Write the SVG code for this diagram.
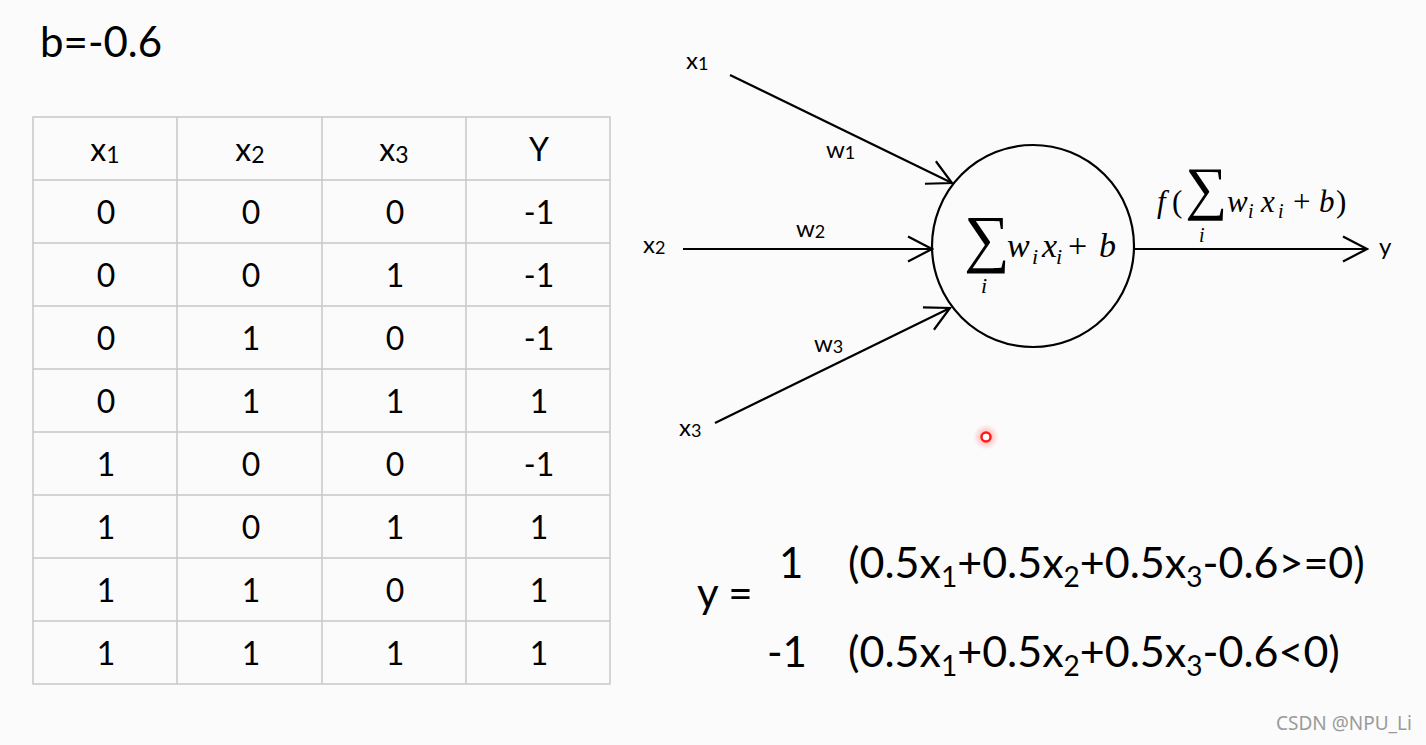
<svg xmlns="http://www.w3.org/2000/svg" width="1426" height="745" viewBox="0 0 1426 745">
<defs>
<style>
.sans{font-family:Lato,"Liberation Sans",sans-serif;fill:#000}
.cell{font-size:32px;text-anchor:middle}
.lbl{font-size:24px}
.m{font-family:"Liberation Serif","DejaVu Serif",serif;font-style:italic;fill:#000}
.mu{font-family:"Liberation Serif","DejaVu Serif",serif;fill:#000}
.grid{stroke:#c8c8c8;stroke-width:1.5;fill:none}
.edge{stroke:#000;stroke-width:2.2;fill:none}
.f{font-size:43px}
</style>
<marker id="arr" viewBox="0 0 27 28" refX="25" refY="14" markerWidth="27" markerHeight="28" markerUnits="userSpaceOnUse" orient="auto">
<path d="M1,1.5 L25,14 L1,26.5" fill="none" stroke="#000" stroke-width="2.2"/>
</marker>
<radialGradient id="halo">
<stop offset="0" stop-color="#ff4040" stop-opacity="0.6"/>
<stop offset="1" stop-color="#ff8080" stop-opacity="0"/>
</radialGradient>
</defs>
<rect width="1426" height="745" fill="#fbfbfb"/>

<text id="bias" class="sans" x="40" y="57" font-size="42">b=-0.6</text>

<g id="table">
<rect x="33" y="117" width="577" height="567" fill="#fdfdfd" class="grid"/>
<path class="grid" d="M177,117V684M322,117V684M466,117V684M33,180H610M33,243H610M33,306H610M33,369H610M33,432H610M33,495H610M33,558H610M33,621H610"/>
<g class="sans cell">
<text x="105" y="161">x<tspan font-size="23" dy="2">1</tspan></text>
<text x="250" y="161">x<tspan font-size="23" dy="2">2</tspan></text>
<text x="394" y="161">x<tspan font-size="23" dy="2">3</tspan></text>
<text x="539" y="161">Y</text>
<text x="106" y="224">0</text><text x="251" y="224">0</text><text x="395" y="224">0</text><text x="539" y="224">-1</text>
<text x="106" y="287">0</text><text x="251" y="287">0</text><text x="395" y="287">1</text><text x="539" y="287">-1</text>
<text x="106" y="350">0</text><text x="251" y="350">1</text><text x="395" y="350">0</text><text x="539" y="350">-1</text>
<text x="106" y="413">0</text><text x="251" y="413">1</text><text x="395" y="413">1</text><text x="539" y="413">1</text>
<text x="106" y="476">1</text><text x="251" y="476">0</text><text x="395" y="476">0</text><text x="539" y="476">-1</text>
<text x="106" y="539">1</text><text x="251" y="539">0</text><text x="395" y="539">1</text><text x="539" y="539">1</text>
<text x="106" y="602">1</text><text x="251" y="602">1</text><text x="395" y="602">0</text><text x="539" y="602">1</text>
<text x="106" y="665">1</text><text x="251" y="665">1</text><text x="395" y="665">1</text><text x="539" y="665">1</text>
</g>
</g>

<g id="input-x1"><text class="sans lbl" x="686" y="69">x<tspan font-size="18" dy="1">1</tspan></text></g>
<g id="input-x2"><text class="sans lbl" x="643" y="253">x<tspan font-size="18" dy="1">2</tspan></text></g>
<g id="input-x3"><text class="sans lbl" x="679" y="436">x<tspan font-size="18" dy="1">3</tspan></text></g>
<g id="output-y"><text class="sans lbl" x="1379" y="255">y</text></g>

<g id="neuron">
<circle cx="1033" cy="246" r="101" fill="none" stroke="#000" stroke-width="2.2"/>
<text class="mu" x="964" y="260" font-size="64">∑</text>
<text class="m" x="981" y="293" font-size="22">i</text>
<text class="m" x="1007" y="257" font-size="34">w</text>
<text class="m" x="1032" y="264" font-size="22">i</text>
<text class="m" x="1042" y="257" font-size="34">x</text>
<text class="m" x="1056" y="264" font-size="22">i</text>
<text class="mu" x="1068" y="257" font-size="34">+</text>
<text class="m" x="1099" y="257" font-size="34">b</text>
</g>

<g id="connectors">
<line class="edge" x1="730" y1="75" x2="952" y2="183" marker-end="url(#arr)"/>
<line class="edge" x1="683" y1="249" x2="932" y2="249" marker-end="url(#arr)"/>
<line class="edge" x1="715" y1="423" x2="950" y2="308" marker-end="url(#arr)"/>
<line class="edge" x1="1135" y1="249" x2="1367" y2="249" marker-end="url(#arr)"/>
<text class="sans lbl" x="826" y="158">w<tspan font-size="18" dy="1">1</tspan></text>
<text class="sans lbl" x="796" y="237">w<tspan font-size="18" dy="1">2</tspan></text>
<text class="sans lbl" x="814" y="352">w<tspan font-size="18" dy="1">3</tspan></text>
<g id="activation">
<text class="m" x="1157" y="212" font-size="31">f</text>
<text class="mu" x="1172" y="212" font-size="31">(</text>
<text class="mu" x="1185" y="208" font-size="59">∑</text>
<text class="m" x="1199" y="242" font-size="20">i</text>
<text class="m" x="1227" y="212" font-size="31">w</text>
<text class="m" x="1248" y="218" font-size="20">i</text>
<text class="m" x="1261" y="212" font-size="31">x</text>
<text class="m" x="1278" y="218" font-size="20">i</text>
<text class="mu" x="1293" y="212" font-size="31">+</text>
<text class="m" x="1319" y="212" font-size="31">b</text>
<text class="mu" x="1336" y="212" font-size="31">)</text>
</g>
</g>

<g id="formula" class="sans f">
<text x="697" y="608" font-size="42">y =</text>
<text x="779" y="578" font-size="42">1</text>
<text x="767" y="667" font-size="42">-1</text>
<text x="848" y="578">(0.5x<tspan font-size="28" dy="9">1</tspan><tspan dy="-9">+0.5x</tspan><tspan font-size="28" dy="9">2</tspan><tspan dy="-9">+0.5x</tspan><tspan font-size="28" dy="9">3</tspan><tspan dy="-9">-0.6&gt;=0)</tspan></text>
<text x="848" y="667">(0.5x<tspan font-size="28" dy="9">1</tspan><tspan dy="-9">+0.5x</tspan><tspan font-size="28" dy="9">2</tspan><tspan dy="-9">+0.5x</tspan><tspan font-size="28" dy="9">3</tspan><tspan dy="-9">-0.6&lt;0)</tspan></text>
</g>

<g id="pointer">
<circle cx="986" cy="437" r="13" fill="url(#halo)"/>
<circle cx="986" cy="437" r="4.5" fill="#fff" stroke="#ff1a1a" stroke-width="2.5"/>
</g>

<text id="watermark" x="1276" y="730" font-family="'Noto Sans','DejaVu Sans',sans-serif" font-size="19" fill="#9a9a9a">CSDN @NPU_Li</text>
</svg>
